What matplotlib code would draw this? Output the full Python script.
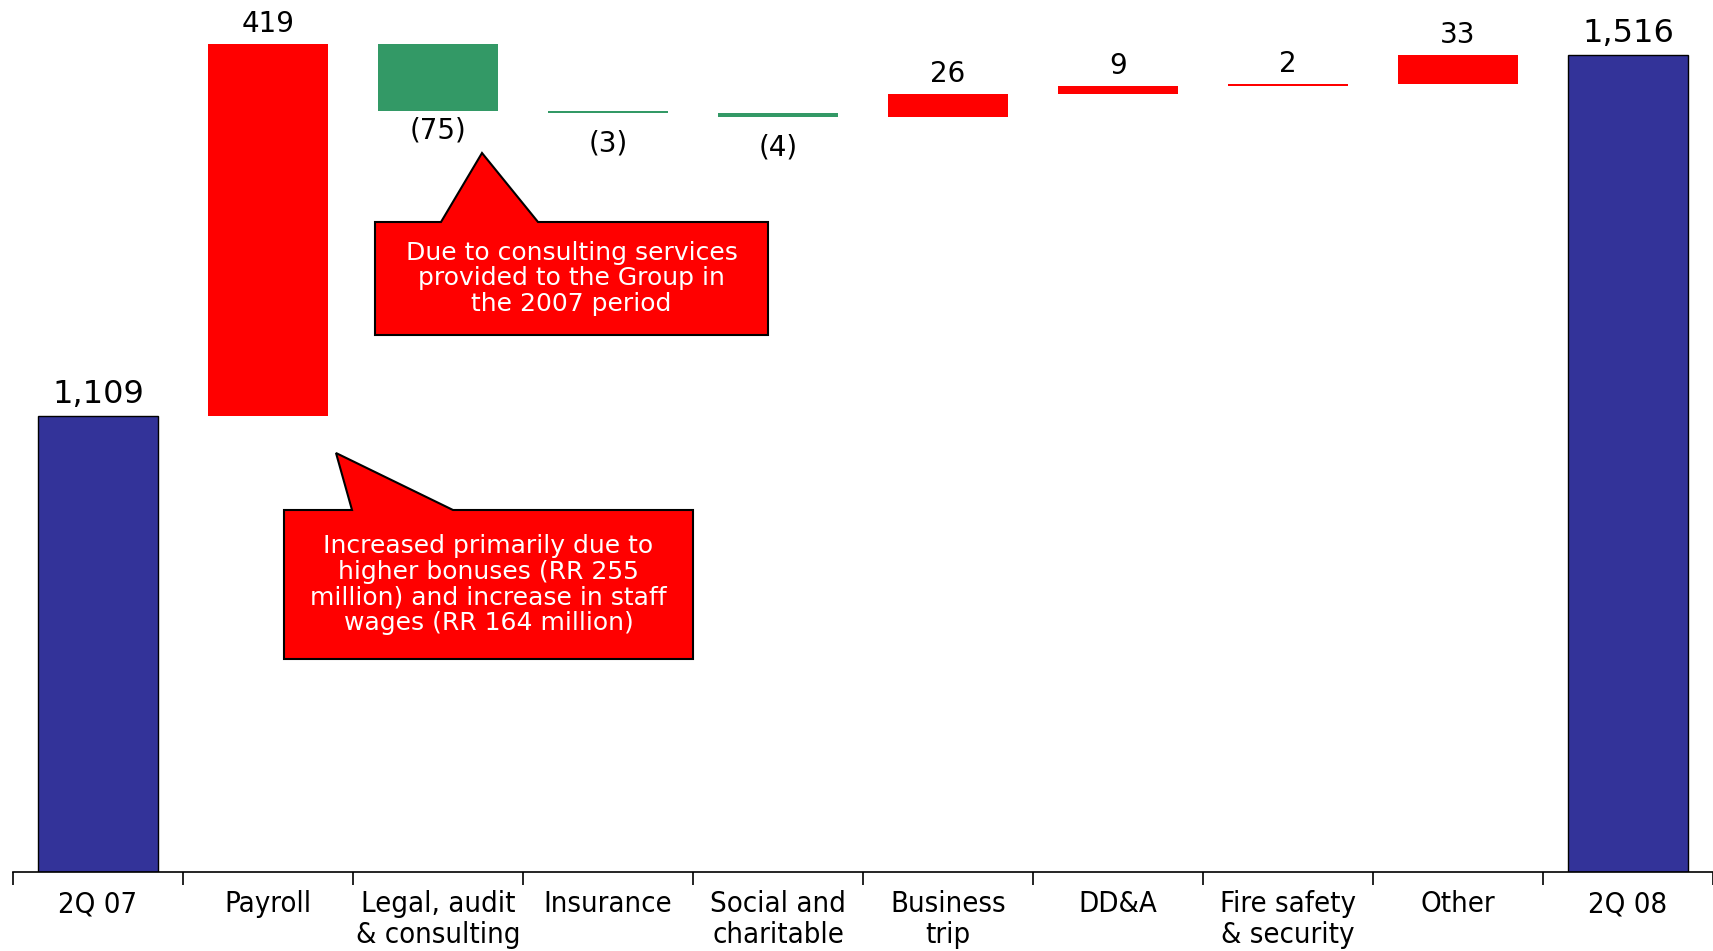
import numpy as np
import matplotlib
matplotlib.use("Agg")
import matplotlib.pyplot as plt
from matplotlib.patches import Polygon

# ── Dati ────────────────────────────────────────────────────
categories = ["2Q 07", "Payroll", "Legal, audit\n& consulting", "Insurance",
              "Social and\ncharitable", "Business\ntrip", "DD&A",
              "Fire safety\n& security", "Other", "2Q 08"]
start_value = 1109
changes = [419, -75, -3, -4, 26, 9, 2, 33]
end_value = 1516
value_labels = ["1,109", "419", "(75)", "(3)", "(4)", "26", "9", "2", "33", "1,516"]

BLUE = "#333399"
RED = "#FF0000"
GREEN = "#339966"
W, H = 1713, 951
# ────────────────────────────────────────────────────────────

fig = plt.figure(figsize=(W / 100, H / 100), dpi=100)
ax = fig.add_axes([13 / W, 1 - 872 / H, 1 - 13 / W, 872 / H])

n = len(categories)
x = np.arange(n)
bottoms, heights, colors = [], [], []
bottoms.append(595.5); heights.append(start_value - 595.5); colors.append(BLUE)
level = start_value
for c in changes:
    bottoms.append(min(level, level + c))
    heights.append(abs(c))
    colors.append(RED if c > 0 else GREEN)
    level += c
bottoms.append(595.5); heights.append(end_value - 595.5); colors.append(BLUE)

bw = 0.71
for i in range(n):
    edge = "black" if colors[i] == BLUE else "none"
    ax.bar(x[i], heights[i], bottom=bottoms[i], width=bw, color=colors[i],
           edgecolor=edge, linewidth=1.0)

# etichette valori
for i in range(n):
    big = i in (0, n - 1)
    size = 23 if big else 20
    if 0 < i < n - 1 and changes[i - 1] < 0:
        off = -4 if abs(changes[i - 1]) > 10 else -12
        ax.annotate(value_labels[i], (x[i], bottoms[i]), xytext=(0, off),
                    textcoords="offset points", ha="center", va="top",
                    fontsize=size, color="black")
    else:
        ax.annotate(value_labels[i], (x[i], bottoms[i] + heights[i]), xytext=(0, 4),
                    textcoords="offset points", ha="center", va="bottom",
                    fontsize=size, color="black")

ax.set_xlim(-0.5, n - 0.5)
ax.set_ylim(595.5, 1577.5)
for s in ["top", "right", "left"]:
    ax.spines[s].set_visible(False)
ax.spines["bottom"].set_linewidth(1.2)
ax.set_yticks([])
ax.set_xticks(x)
ax.set_xticklabels(categories, fontsize=21, fontstretch="condensed",
                   linespacing=1.12, va="top")
ax.tick_params(axis="x", which="major", length=0, pad=13)
ax.set_xticks(np.arange(-0.5, n, 1.0), minor=True)
ax.tick_params(axis="x", which="minor", length=9, width=1.2, direction="out")


def callout(box, base, tip, text, fontsize):
    """Disegna un fumetto rosso in coordinate pixel (origine in alto a sinistra)."""
    l, t, r, b = box
    pts = [(l, t), (base[0], t), tip, (base[1], t), (r, t), (r, b), (l, b)]
    pts = [(px / W, 1 - py / H) for px, py in pts]
    fig.patches.append(Polygon(pts, closed=True, facecolor=RED, edgecolor="black",
                               linewidth=1.5, transform=fig.transFigure, figure=fig))
    fig.text((l + r) / 2 / W, 1 - (t + b) / 2 / H, text, ha="center", va="center",
             color="white", fontsize=fontsize, linespacing=1.08)


callout((375, 222, 768, 335), (441, 538), (482, 153),
        "Due to consulting services\nprovided to the Group in\nthe 2007 period", 18)
callout((284, 510, 693, 659), (352, 453), (336, 453),
        "Increased primarily due to\nhigher bonuses (RR 255\nmillion) and increase in staff\nwages (RR 164 million)", 18)

fig.savefig("out.png", dpi=100)
